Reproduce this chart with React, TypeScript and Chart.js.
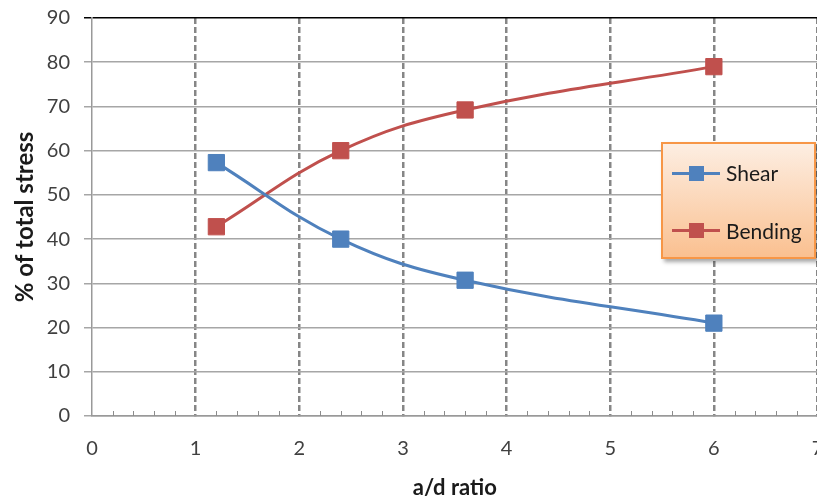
import React, { useEffect, useRef } from "react";
import { Chart, registerables } from "chart.js";

Chart.register(...registerables);

const ratios = [1.2, 2.4, 3.6, 6];
const shear = [57.3, 40, 30.7, 21];
const bending = [42.8, 60, 69.2, 79];
const seriesNames = ["Shear", "Bending"];
const seriesColors = ["#4F81BD", "#C0504D"];
const xTitle = "a/d ratio";
const yTitle = "% of total stress";
const xMin = 0, xMax = 7, yMin = 0, yMax = 90;
const minorStep = 0.2;

const FONT = "Lato, 'Open Sans', sans-serif";

const minorTicks = {
  id: "minorTicks",
  afterDraw(chart: any) {
    const ctx = chart.ctx;
    const xs = chart.scales.x;
    const y0 = chart.scales.y.getPixelForValue(yMin);
    ctx.save();
    ctx.strokeStyle = "#8c8c8c";
    ctx.lineWidth = 1;
    const n = Math.round((xMax - xMin) / minorStep);
    for (let i = 1; i < n; i++) {
      const v = xMin + i * minorStep;
      if (Math.abs(v - Math.round(v)) < 1e-6) continue;
      const px = Math.round(xs.getPixelForValue(v)) + 0.5;
      ctx.beginPath();
      ctx.moveTo(px, y0);
      ctx.lineTo(px, y0 - 5);
      ctx.stroke();
    }
    ctx.restore();
  },
};

function LegendItem({ name, color, top }: { name: string; color: string; top: number }) {
  return (
    <div style={{ position: "absolute", left: 9, top: top - 10, height: 20, display: "flex", alignItems: "center" }}>
      <div style={{ position: "relative", width: 48, height: 16, marginRight: 6 }}>
        <div style={{ position: "absolute", left: 0, top: 6.5, width: 48, height: 3, background: color }} />
        <div style={{ position: "absolute", left: 16.5, top: 0.5, width: 15, height: 15, background: color }} />
      </div>
      <span style={{ fontFamily: FONT, fontSize: 21, lineHeight: "20px", color: "#1a1a1a" }}>{name}</span>
    </div>
  );
}

export default function App() {
  const ref = useRef<HTMLCanvasElement>(null);
  useEffect(() => {
    const mk = (vals: number[]) => ratios.map((x, i) => ({ x, y: vals[i] }));
    const chart = new Chart(ref.current!, {
      type: "line",
      data: {
        datasets: [shear, bending].map((vals, i) => ({
          label: seriesNames[i],
          data: mk(vals),
          borderColor: seriesColors[i],
          backgroundColor: seriesColors[i],
          borderWidth: 3,
          tension: 0.4,
          pointStyle: "rect",
          pointRadius: 11.5,
          pointBorderWidth: 1,
          pointBorderColor: seriesColors[i],
          pointBackgroundColor: seriesColors[i],
        })),
      },
      options: {
        responsive: false,
        animation: false,
        layout: { padding: { top: 18, left: 0, right: 10, bottom: 0 } },
        plugins: { legend: { display: false }, tooltip: { enabled: false } },
        scales: {
          x: {
            type: "linear",
            min: xMin,
            max: xMax,
            afterFit(s: any) {
              s.height = 83;
              s.paddingLeft = 0;
              s.paddingRight = 0;
              s.paddingTop = 0;
              s.paddingBottom = 0;
            },
            ticks: { stepSize: 1, color: "#404040", font: { family: FONT, size: 20 }, padding: 21, maxRotation: 0 },
            grid: {
              color: (c: any) => (c.tick && c.tick.value === xMin ? "rgba(0,0,0,0)" : "#868686"),
              lineWidth: 2.5,
              tickLength: 0,
            },
            border: { display: true, color: "#999999", width: 1.5, dash: [6, 3] } as any,
            title: { display: true, text: xTitle, color: "#1a1a1a", font: { family: FONT, size: 22, weight: "bold", lineHeight: 1 }, padding: { top: 0, bottom: 0 } },
          },
          y: {
            min: yMin,
            max: yMax,
            afterFit(s: any) {
              s.width = 92;
              s.paddingLeft = 0;
              s.paddingRight = 0;
              s.paddingTop = 0;
              s.paddingBottom = 0;
            },
            ticks: { stepSize: 10, color: "#404040", font: { family: FONT, size: 20 }, padding: 14 },
            grid: {
              color: (c: any) => (c.tick && c.tick.value === yMax ? "#000000" : "#a6a6a6"),
              lineWidth: 1.5,
              tickLength: 8,
            },
            border: { display: true, color: "#999999", width: 1.5 },
            title: { display: true, text: yTitle, color: "#1a1a1a", font: { family: FONT, size: 24, weight: "bold", lineHeight: 1.2 }, padding: { top: 11, bottom: 0 } },
          },
        },
      },
      plugins: [minorTicks],
    } as any);
    return () => chart.destroy();
  }, []);

  return (
    <div style={{ position: "absolute", left: 0, top: 0, width: 817, height: 499, overflow: "hidden", background: "#fff" }}>
      <canvas ref={ref} width={830} height={499} style={{ display: "block" }} />
      <div
        style={{
          position: "absolute",
          left: 661,
          top: 142,
          width: 155,
          height: 117,
          border: "2px solid #F79646",
          background: "linear-gradient(#FDEEE2, #FAC090)",
          boxShadow: "3px 3px 4px rgba(0,0,0,0.35)",
          boxSizing: "border-box",
        }}
      >
        <LegendItem name={seriesNames[0]} color={seriesColors[0]} top={29} />
        <LegendItem name={seriesNames[1]} color={seriesColors[1]} top={86.5} />
      </div>
    </div>
  );
}
